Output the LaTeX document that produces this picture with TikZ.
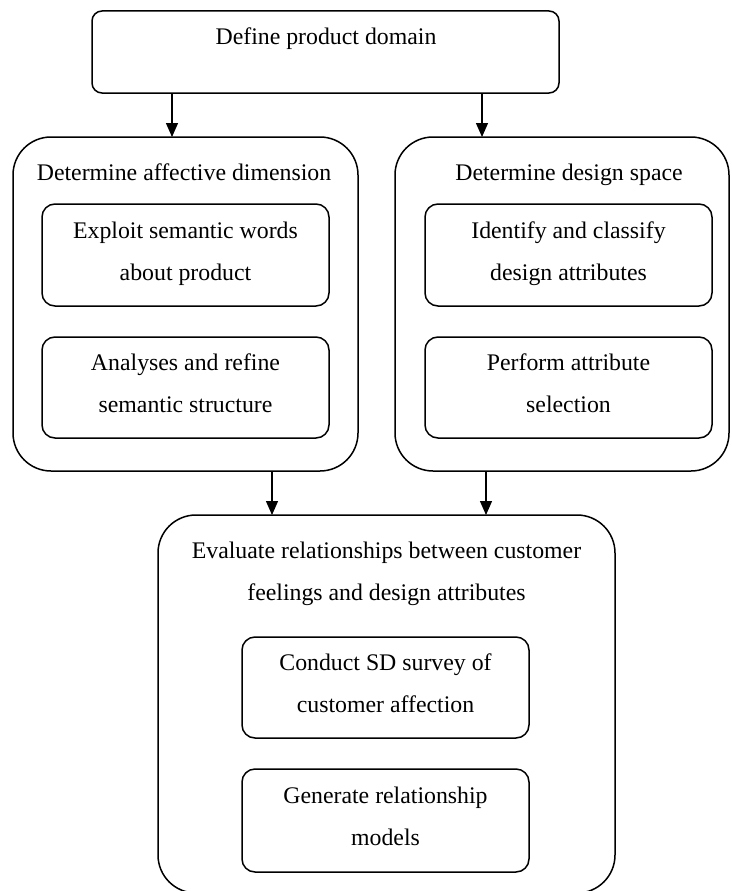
\documentclass[tikz,border=0pt]{standalone}
\usepackage{fontspec}
\setmainfont{Liberation Serif}
\usetikzlibrary{arrows.meta}
\begin{document}
\begin{tikzpicture}[x=1pt,y=-1pt,
  box/.style={draw, line width=1.5pt, inner sep=0pt, outer sep=0pt, anchor=north west},
  topbox/.style={box, rounded corners=10pt},
  outerbox/.style={box, rounded corners=38pt},
  innerbox/.style={box, rounded corners=13pt},
  txt/.style={anchor=base, inner sep=0pt, font=\fontsize{23.8}{28}\selectfont},
  flow/.style={-{Triangle[length=14pt,width=12pt]}, line width=1.3pt}]
\useasboundingbox (0,0) rectangle (731,891);
\clip (0,0) rectangle (731,891);

% frames
\node[topbox,   minimum width=467pt, minimum height=82pt]  (dom)  at (92,11)   {};
\node[outerbox, minimum width=345pt, minimum height=334pt] (aff)  at (13,137)  {};
\node[outerbox, minimum width=334pt, minimum height=334pt] (des)  at (395,137) {};
\node[outerbox, minimum width=457pt, minimum height=378pt] (eval) at (158,515) {};
\node[innerbox, minimum width=287pt, minimum height=102pt] (aff1) at (42,204)  {};
\node[innerbox, minimum width=287pt, minimum height=101pt] (aff2) at (42,337)  {};
\node[innerbox, minimum width=287pt, minimum height=102pt] (des1) at (425,204) {};
\node[innerbox, minimum width=287pt, minimum height=101pt] (des2) at (425,337) {};
\node[innerbox, minimum width=287pt, minimum height=101pt] (ev1)  at (242,637) {};
\node[innerbox, minimum width=287pt, minimum height=103pt] (ev2)  at (242,769) {};

% labels
\node[txt] (tdom) at (326,45)  {Define product domain};
\node[txt] (taff) at (184,180) {Determine affective dimension};
\node[txt] (tdes) at (569,180) {Determine design space};
\node[txt] (ta1a) at (185.5,238) {Exploit semantic words};
\node[txt] (ta1b) at (185.5,280) {about product};
\node[txt] (ta2a) at (185.5,370) {Analyses and refine};
\node[txt] (ta2b) at (185.5,412) {semantic structure};
\node[txt] (td1a) at (568.5,238) {Identify and classify};
\node[txt] (td1b) at (568.5,280) {design attributes};
\node[txt] (td2a) at (568.5,370) {Perform attribute};
\node[txt] (td2b) at (568.5,412) {selection};
\node[txt] (tea)  at (386.5,558) {Evaluate relationships between customer};
\node[txt] (teb)  at (386.5,600) {feelings and design attributes};
\node[txt] (te1a) at (385.5,670) {Conduct SD survey of};
\node[txt] (te1b) at (385.5,712) {customer affection};
\node[txt] (te2a) at (385.5,803) {Generate relationship};
\node[txt] (te2b) at (385.5,845) {models};

% connectors
\coordinate (c1) at (172,0);
\coordinate (c2) at (482,0);
\coordinate (c3) at (272,0);
\coordinate (c4) at (486,0);
\draw[flow] (dom.south -| c1) -- (aff.north -| c1);
\draw[flow] (dom.south -| c2) -- (des.north -| c2);
\draw[flow] (aff.south -| c3) -- (eval.north -| c3);
\draw[flow] (des.south -| c4) -- (eval.north -| c4);
\end{tikzpicture}
\end{document}
